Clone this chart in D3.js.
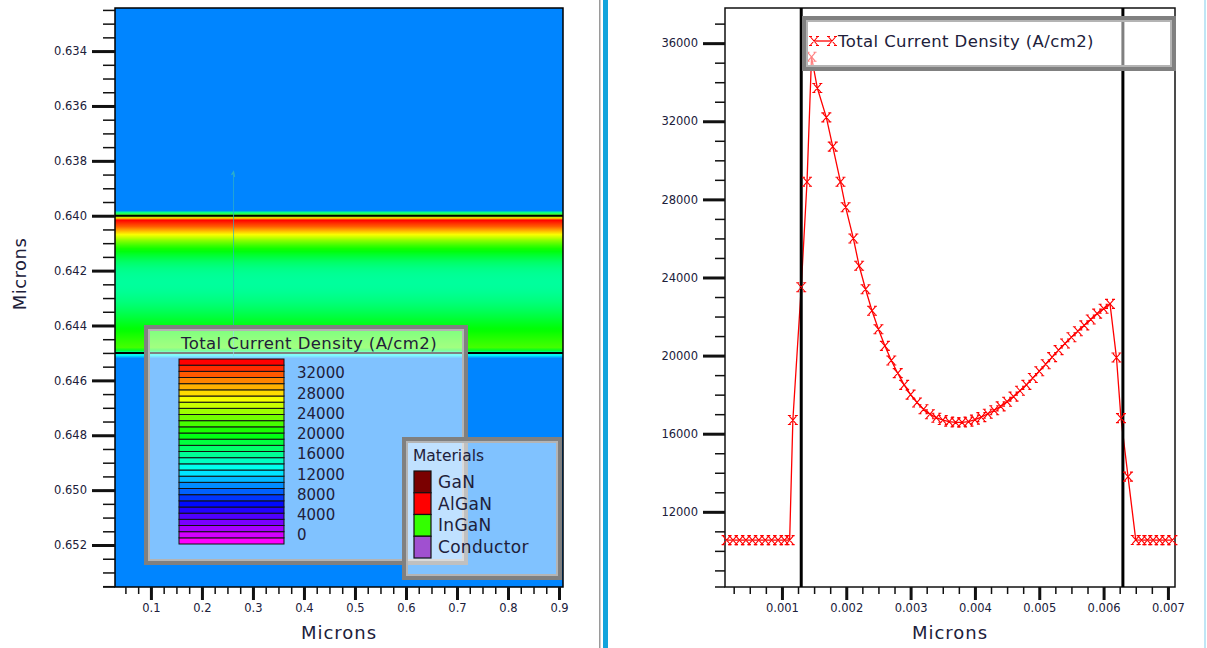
<!DOCTYPE html>
<html>
<head>
<meta charset="utf-8">
<script src="https://cdn.jsdelivr.net/npm/d3@7"></script>
<style>
  html, body { margin: 0; padding: 0; background: #fff; }
  svg { display: block; font-family: "DejaVu Sans", Verdana, sans-serif; }
</style>
</head>
<body>
<svg id="chart" width="1207" height="648"></svg>
<script>
// Total current density profile (cut line), x in microns, J in A/cm2
const profileX = [
  0.00014, 0.00024, 0.00034, 0.00044, 0.00054, 0.00064, 0.00074, 0.00084, 0.00094, 0.00104,
  0.00112, 0.00117, 0.00130, 0.00139, 0.00146, 0.00155, 0.00169, 0.00179, 0.00191, 0.00199,
  0.00211, 0.00220, 0.00230, 0.00240, 0.00250, 0.00260, 0.00270, 0.00280, 0.00290, 0.00300,
  0.00310, 0.00320, 0.00330, 0.00340, 0.00350, 0.00360, 0.00370, 0.00380, 0.00390, 0.00400,
  0.00410, 0.00420, 0.00430, 0.00440, 0.00450, 0.00460, 0.00470, 0.00480, 0.00490, 0.00500,
  0.00510, 0.00520, 0.00530, 0.00540, 0.00550, 0.00560, 0.00570, 0.00580, 0.00590, 0.00600,
  0.00610, 0.00620, 0.00627, 0.00638, 0.00650, 0.00659, 0.00668, 0.00677, 0.00687, 0.00696,
  0.00707
];
const profileJ = [
  10550, 10550, 10550, 10550, 10550, 10550, 10550, 10550, 10550, 10550,
  10550, 16700, 23500, 28900, 35300, 33700, 32200, 30700, 28900, 27600,
  26000, 24600, 23400, 22300, 21350, 20500, 19750, 19100, 18500, 18000,
  17600, 17250, 17000, 16820, 16700, 16620, 16580, 16580, 16620, 16720,
  16850, 17020, 17200, 17400, 17640, 17900, 18200, 18500, 18850, 19200,
  19560, 19920, 20280, 20620, 20940, 21250, 21550, 21850, 22150, 22400,
  22650, 19900, 16800, 13800, 10560, 10550, 10550, 10550, 10550, 10550,
  10550
];

// material interfaces
const layerEdgesDepth = [0.640, 0.645];      // left panel (y, microns)
const layerEdgesCut = [0.0013, 0.0063];      // right panel (x, microns)
const cutDepthOffset = 0.6387;               // cut-line x -> device depth
const cutLineX = 0.262;
const cutLineSpan = [0.6384, 0.6455];

// tick labels
const leftXTicks = [0.1, 0.2, 0.3, 0.4, 0.5, 0.6, 0.7, 0.8, 0.9];
const leftYTicks = [0.634, 0.636, 0.638, 0.640, 0.642, 0.644, 0.646, 0.648, 0.650, 0.652];
const rightXTicks = [0.001, 0.002, 0.003, 0.004, 0.005, 0.006, 0.007];
const rightYTicks = [12000, 16000, 20000, 24000, 28000, 32000, 36000];
const legendLabels = [0, 4000, 8000, 12000, 16000, 20000, 24000, 28000, 32000];

const materialNames = ['GaN', 'AlGaN', 'InGaN', 'Conductor'];
const materialColors = ['#7a0000', '#ff0000', '#33ff00', '#a050d0'];

const colorMax = 34700;
const hue = d3.scaleLinear().domain([0, colorMax]).range([300, 0]).clamp(true);
const colorOf = v => d3.hsl(hue(v), 1, 0.5).formatHex();

const svg = d3.select('#chart');
const defs = svg.append('defs');
const textColor = '#20203a';

// --- separators ---
svg.append('rect').attr('x', 599).attr('y', 0).attr('width', 1.5).attr('height', 648).attr('fill', '#9a9a9a');
svg.append('rect').attr('x', 603).attr('y', 0).attr('width', 5).attr('height', 648).attr('fill', '#12a4dc');
svg.append('rect').attr('x', 1204).attr('y', 0).attr('width', 2).attr('height', 648).attr('fill', '#bfe6f5');

// helper for major / minor ticks
function drawAxis(g, axisFn, scale, majors, minors, majorLen, minorLen, fmt) {
  const minor = g.append('g').call(axisFn(scale).tickValues(minors).tickSize(minorLen).tickFormat(''));
  minor.select('.domain').remove();
  minor.selectAll('line').attr('stroke', '#111').attr('stroke-width', 1.5);
  const major = g.append('g').call(axisFn(scale).tickValues(majors).tickSize(majorLen).tickPadding(5).tickFormat(fmt));
  major.select('.domain').remove();
  major.selectAll('line').attr('stroke', '#111').attr('stroke-width', 3);
  major.selectAll('text').attr('fill', textColor).style('font-size', '11.5px')
    .style('font-family', '"DejaVu Sans", Verdana, sans-serif');
  return major;
}

// ================= LEFT PANEL (2D map) =================
const xL = d3.scaleLinear().domain([0.0296, 0.9078]).range([115, 563]);
const yL = d3.scaleLinear().domain([0.63243, 0.65353]).range([8, 587]);

const gy1 = yL(cutDepthOffset + profileX[0]);
const gy2 = yL(cutDepthOffset + profileX[profileX.length - 1]);
const grad = defs.append('linearGradient')
  .attr('id', 'jmap').attr('gradientUnits', 'userSpaceOnUse')
  .attr('x1', 0).attr('x2', 0).attr('y1', gy1).attr('y2', gy2);
profileX.forEach((x, i) => {
  grad.append('stop')
    .attr('offset', (yL(cutDepthOffset + x) - gy1) / (gy2 - gy1))
    .attr('stop-color', colorOf(profileJ[i]));
});

svg.append('rect')
  .attr('x', xL.range()[0]).attr('y', yL.range()[0])
  .attr('width', xL.range()[1] - xL.range()[0])
  .attr('height', yL.range()[1] - yL.range()[0])
  .attr('fill', 'url(#jmap)');

// material boundaries
svg.selectAll('.edgeL').data(layerEdgesDepth).enter().append('line')
  .attr('x1', xL.range()[0]).attr('x2', xL.range()[1])
  .attr('y1', d => yL(d)).attr('y2', d => yL(d))
  .attr('stroke', '#000').attr('stroke-width', 2);

// cut line
svg.append('line')
  .attr('x1', xL(cutLineX)).attr('x2', xL(cutLineX))
  .attr('y1', yL(cutLineSpan[0])).attr('y2', yL(cutLineSpan[1]))
  .attr('stroke', '#2fb0c8').attr('stroke-width', 1).attr('opacity', 0.75);
svg.append('path')
  .attr('d', `M${xL(cutLineX) - 2},${yL(cutLineSpan[0]) + 3}L${xL(cutLineX)},${yL(cutLineSpan[0])}L${xL(cutLineX) + 1},${yL(cutLineSpan[0]) + 5}`)
  .attr('fill', 'none').attr('stroke', '#2fb0c8').attr('stroke-width', 1.2);

// frame
svg.append('rect')
  .attr('x', xL.range()[0]).attr('y', yL.range()[0])
  .attr('width', xL.range()[1] - xL.range()[0])
  .attr('height', yL.range()[1] - yL.range()[0])
  .attr('fill', 'none').attr('stroke', '#000').attr('stroke-width', 1.5);
svg.append('line').attr('x1', 103).attr('x2', 115).attr('y1', 587).attr('y2', 587)
  .attr('stroke', '#111').attr('stroke-width', 1.5);

// axes
drawAxis(svg.append('g').attr('transform', 'translate(115,0)'), d3.axisLeft, yL,
  leftYTicks, d3.range(0.6325, 0.6536, 0.0005), 23, 12, d3.format('.3f'));
drawAxis(svg.append('g').attr('transform', 'translate(0,587)'), d3.axisBottom, xL,
  leftXTicks, d3.range(0.05, 0.91, 0.025), 13, 7, d3.format('.1f'))
  .selectAll('text').attr('y', 17);

svg.append('text')
  .attr('x', (xL.range()[0] + xL.range()[1]) / 2).attr('y', 639)
  .attr('text-anchor', 'middle').attr('fill', textColor)
  .style('font-size', '18px').style('letter-spacing', '1px').text('Microns');
svg.append('text')
  .attr('transform', 'translate(26,274) rotate(-90)')
  .attr('text-anchor', 'middle').attr('fill', textColor)
  .style('font-size', '18px').style('letter-spacing', '0.5px').text('Microns');

// colour legend box
function legendBox(x, y, w, h) {
  const g = svg.append('g');
  g.append('rect').attr('x', x).attr('y', y).attr('width', w).attr('height', h)
    .attr('fill', '#fff').attr('fill-opacity', 0.5)
    .attr('stroke', '#808080').attr('stroke-width', 4);
  g.append('rect').attr('x', x + 3).attr('y', y + 3).attr('width', w - 6).attr('height', h - 6)
    .attr('fill', 'none').attr('stroke', '#b4b4b4').attr('stroke-width', 2);
  return g;
}

const cl = legendBox(146, 327, 320, 236);
cl.append('text').attr('x', 309).attr('y', 349).attr('text-anchor', 'middle')
  .attr('fill', textColor).style('font-size', '16.5px').style('letter-spacing', '0.4px')
  .text('Total Current Density (A/cm2)');

const nStripes = 30;
const stripeValues = d3.range(nStripes).map(i => colorMax * i / (nStripes - 1));
const stripeY = d3.scaleBand().domain(d3.range(nStripes)).range([544, 359]);
cl.selectAll('.stripe').data(stripeValues).enter().append('rect')
  .attr('x', 179).attr('width', 105)
  .attr('y', (d, i) => stripeY(i)).attr('height', stripeY.bandwidth())
  .attr('fill', d => colorOf(d))
  .attr('stroke', '#111').attr('stroke-width', 1);
const legendLabelY = d3.scaleLinear().domain([0, 32000]).range([535, 373]);
cl.selectAll('.lbl').data(legendLabels).enter().append('text')
  .attr('x', 297).attr('y', d => legendLabelY(d)).attr('dy', '0.36em')
  .attr('fill', textColor).style('font-size', '15px').text(d => d);

// materials legend box
const ml = legendBox(404, 439, 156, 139);
ml.append('text').attr('x', 413).attr('y', 461).attr('fill', textColor)
  .style('font-size', '15.5px').text('Materials');
const matY = d3.scaleBand().domain(materialNames).range([471, 558]);
ml.selectAll('.sw').data(materialNames).enter().append('rect')
  .attr('x', 414).attr('width', 17)
  .attr('y', d => matY(d)).attr('height', matY.bandwidth())
  .attr('fill', (d, i) => materialColors[i]).attr('stroke', '#111').attr('stroke-width', 1.2);
ml.selectAll('.mt').data(materialNames).enter().append('text')
  .attr('x', 438).attr('y', d => matY(d) + matY.bandwidth() / 2).attr('dy', '0.36em')
  .attr('fill', textColor).style('font-size', '17px').style('letter-spacing', '0.3px').text(d => d);

// ================= RIGHT PANEL (cut-line profile) =================
const xR = d3.scaleLinear().domain([0.000115, 0.00711]).range([725, 1175]);
const yR = d3.scaleLinear().domain([8150, 37800]).range([587, 8]);

svg.append('rect')
  .attr('x', 725).attr('y', 8).attr('width', 450).attr('height', 579)
  .attr('fill', '#fff').attr('stroke', '#111').attr('stroke-width', 1.5);
svg.append('line').attr('x1', 715).attr('x2', 725).attr('y1', 587).attr('y2', 587)
  .attr('stroke', '#111').attr('stroke-width', 1.5);

drawAxis(svg.append('g').attr('transform', 'translate(725,0)'), d3.axisLeft, yR,
  rightYTicks, d3.range(9000, 37001, 1000), 22, 10, d3.format('d'));
drawAxis(svg.append('g').attr('transform', 'translate(0,587)'), d3.axisBottom, xR,
  rightXTicks, d3.range(0.00025, 0.00701, 0.00025), 13, 7, d3.format('.3f'))
  .selectAll('text').attr('y', 17);

svg.append('text')
  .attr('x', 950).attr('y', 639)
  .attr('text-anchor', 'middle').attr('fill', textColor)
  .style('font-size', '18px').style('letter-spacing', '1px').text('Microns');

const pts = profileX.map((x, i) => [x, profileJ[i]]);
svg.append('path')
  .datum(pts)
  .attr('d', d3.line().x(d => xR(d[0])).y(d => yR(d[1])))
  .attr('fill', 'none').attr('stroke', '#ff0000').attr('stroke-width', 1.3);

svg.selectAll('.edgeR').data(layerEdgesCut).enter().append('line')
  .attr('x1', d => xR(d)).attr('x2', d => xR(d))
  .attr('y1', 8).attr('y2', 587)
  .attr('stroke', '#000').attr('stroke-width', 3);

const markPath = 'M-3.5,-4L3.5,4M-3.5,4L3.5,-4M-5,-4.5H-2M2,-4.5H5M-5,4.5H-2M2,4.5H5';
svg.selectAll('.mk').data(pts).enter().append('path')
  .attr('transform', d => `translate(${xR(d[0])},${yR(d[1])})`)
  .attr('d', markPath)
  .attr('fill', 'none').attr('stroke', '#ff0000').attr('stroke-width', 1.1);

// series legend
const sl = legendBox(804, 18, 370, 51);
sl.append('line').attr('x1', 814).attr('x2', 832).attr('y1', 41).attr('y2', 41)
  .attr('stroke', '#ff0000').attr('stroke-width', 1.3);
[814, 832].forEach(mx => {
  sl.append('path').attr('transform', `translate(${mx},41)`).attr('d', markPath)
    .attr('fill', 'none').attr('stroke', '#ff0000').attr('stroke-width', 1.1);
});
sl.append('text').attr('x', 838).attr('y', 47).attr('fill', textColor)
  .style('font-size', '16.5px').style('letter-spacing', '0.4px')
  .text('Total Current Density (A/cm2)');
</script>
</body>
</html>
